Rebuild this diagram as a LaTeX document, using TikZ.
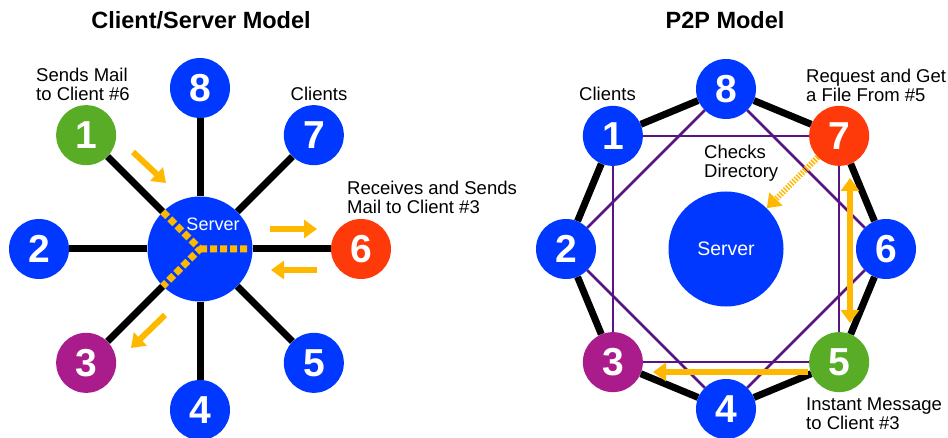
\documentclass[tikz,border=0pt]{standalone}
\usepackage{fontspec}
\setmainfont{Liberation Sans}
\usetikzlibrary{arrows.meta}
\definecolor{nodeblue}{RGB}{0,56,255}
\definecolor{nodegreen}{RGB}{88,172,38}
\definecolor{nodered}{RGB}{255,58,10}
\definecolor{nodemag}{RGB}{170,28,140}
\definecolor{flowyellow}{RGB}{255,184,0}
\definecolor{meshpurple}{RGB}{88,20,130}
\begin{document}
\begin{tikzpicture}[x=1pt,y=1pt,
  client/.style={circle,minimum size=60pt,inner sep=0pt,text=white,font=\fontsize{39}{39}\selectfont\bfseries},
  hub/.style={circle,fill=nodeblue,inner sep=0pt,text=white,font=\fontsize{18}{18}\selectfont},
  spoke/.style={line width=7pt},
  mesh/.style={line width=2.5pt,meshpurple},
  flow/.style={line width=6pt,flowyellow,-{Triangle[width=18pt,length=13pt]}},
  trail/.style={line width=7pt,flowyellow,dash pattern=on 7pt off 3pt},
  note/.style={font=\fontsize{18.5}{19}\selectfont,align=left,anchor=west,inner sep=0pt},
  heading/.style={font=\fontsize{23.5}{24}\selectfont\bfseries}]
\useasboundingbox (0,0) rectangle (948,437);
% client/server model
\node[heading] (ltitle) at (201,417) {Client/Server Model};
\node[hub,minimum size=105pt] (ls) at (200,188) {};
\foreach \i/\c in {1/nodegreen,2/nodeblue,3/nodemag,4/nodeblue,5/nodeblue,6/nodered,7/nodeblue,8/nodeblue}
  \node[client,fill=\c] (l\i) at ([shift={({45*\i-270}:161)}]ls.center) {\i};
\foreach \i in {1,...,8} \draw[spoke] (ls) -- (l\i);
\draw[trail] (ls.135) -- (ls.center) -- (ls.225) (ls.center) -- ([xshift=-3pt]ls.east);
\node[text=white,font=\fontsize{18}{18}\selectfont] (ltxt) at (213,213) {Server};
\coordinate (a1) at (133,285); \coordinate (b1) at (166,254);
\coordinate (a2) at (270,208); \coordinate (b2) at (317,208);
\coordinate (a3) at (317,167); \coordinate (b3) at (271,167);
\coordinate (a4) at (165,122); \coordinate (b4) at (131,89);
\foreach \k in {1,2,3,4} \draw[flow] (a\k) -- (b\k);
\node[note] (lsend) at (36,352.5) {Sends Mail\\to Client \#6};
\node[font=\fontsize{18.5}{19}\selectfont] (lcli) at (319,343) {Clients};
\node[note] (lrecv) at (347,239.5) {Receives and Sends\\Mail to Client \#3};
% p2p model
\node[heading] (rtitle) at (725,417) {P2P Model};
\node[hub,minimum size=115pt,font=\fontsize{19.5}{19.5}\selectfont] (rs) at (726,188) {Server};
\foreach \i/\c in {1/nodeblue,2/nodeblue,3/nodemag,4/nodeblue,5/nodegreen,6/nodeblue,7/nodered,8/nodeblue}
  \node[client,fill=\c] (r\i) at ([shift={({45*\i-270}:160)}]rs.center) {\i};
\foreach \i/\j in {1/2,2/3,3/4,4/5,5/6,6/7,7/8,8/1} \draw[spoke] (r\i) -- (r\j);
\foreach \i/\j in {1/7,7/5,5/3,3/1,8/6,6/4,4/2,2/8} \draw[mesh] (r\i) -- (r\j);
\draw[flow,dash pattern=on 1.5pt off 1.5pt] (r7.225) -- (rs.45);
\coordinate (c1) at (850,259); \coordinate (d1) at (850,114);
\coordinate (c2) at (808,65); \coordinate (d2) at (653,65);
\draw[flow,{Triangle[width=18pt,length=13pt]}-{Triangle[width=18pt,length=13pt]}] (c1) -- (d1);
\draw[flow] (c2) -- (d2);
\node[font=\fontsize{18.5}{19}\selectfont] (rcli) at (607.5,343) {Clients};
\node[note] (rreq) at (806,351.5) {Request and Get\\a File From \#5};
\node[note] (rchk) at (704,273.5) {Checks\\Directory};
\node[note] (rmsg) at (806,23.5) {Instant Message\\to Client \#3};
\end{tikzpicture}
\end{document}
